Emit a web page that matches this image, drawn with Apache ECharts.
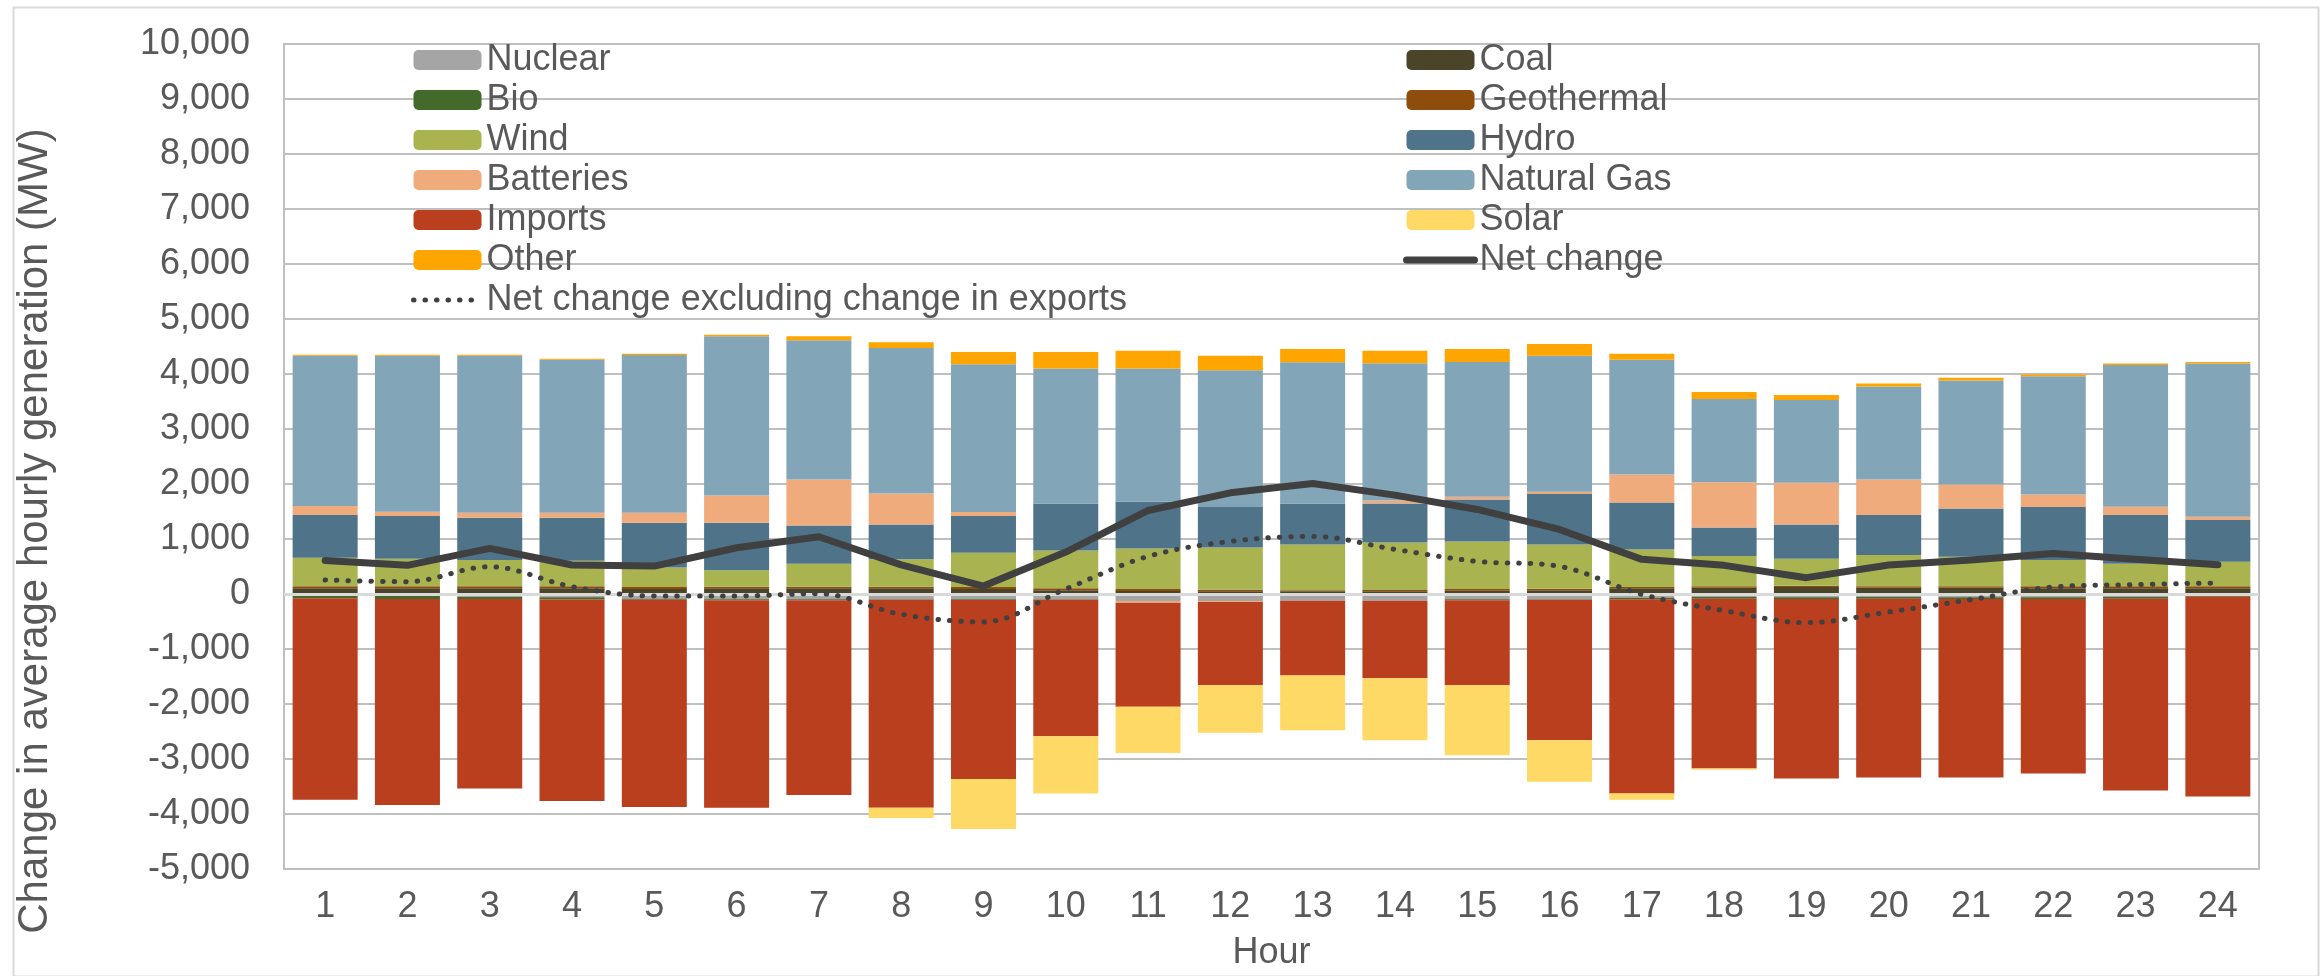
<!DOCTYPE html>
<html>
<head>
<meta charset="utf-8">
<script src="https://cdn.jsdelivr.net/npm/echarts@6/dist/echarts.min.js"></script>
<style>
  html, body { margin: 0; padding: 0; background: #fff; }
  #chart { width: 2321px; height: 976px; }
</style>
</head>
<body>
<div id="chart"></div>
<script>
const hours = ['1','2','3','4','5','6','7','8','9','10','11','12','13','14','15','16','17','18','19','20','21','22','23','24'];
const yTicks = { min: -5000, max: 10000, step: 1000 };

// generation change by source (MW)
const nuclear    = [-36, -30, -55, -60, -85, -97, -97, -97, -97, -97, -127, -127, -121, -121, -97, -97, -67, -55, -61, -55, -61, -61, -55, -24];
const coal       = [103, 103, 103, 103, 91, 103, 103, 103, 91, 67, 54, 48, 48, 48, 60, 67, 103, 115, 127, 115, 115, 103, 103, 103];
const bio        = [-42, -60, -36, -42, -18, -18, -18, -6, -12, -6, 0, 0, 0, 0, -18, -6, -30, -30, -30, -30, -30, -30, -30, -24];
const geothermal = [36, 36, 36, 36, 36, 30, 30, 30, 36, 36, 36, 30, 18, 24, 30, 30, 24, 24, 24, 24, 24, 36, 36, 36];
const wind       = [521, 503, 478, 466, 357, 297, 418, 497, 624, 690, 739, 769, 836, 866, 866, 805, 684, 551, 491, 569, 539, 478, 412, 448];
const hydro      = [775, 774, 769, 781, 811, 865, 696, 635, 665, 853, 848, 733, 744, 708, 763, 914, 854, 521, 623, 727, 878, 963, 884, 757];
const batteries  = [163, 79, 91, 91, 182, 497, 835, 563, 73, 0, -30, -20, 0, 55, 48, 42, 508, 823, 757, 647, 435, 230, 151, 60];
const naturalGas = [2736, 2839, 2857, 2784, 2869, 2893, 2530, 2645, 2688, 2452, 2421, 2488, 2567, 2494, 2452, 2476, 2088, 1513, 1507, 1689, 1889, 2148, 2578, 2785];
const imports    = [-3663, -3748, -3444, -3663, -3771, -3771, -3541, -3783, -3256, -2482, -1895, -1512, -1362, -1410, -1544, -2554, -3529, -3087, -3262, -3250, -3244, -3172, -3486, -3632];
const solar      = [0, 0, 0, 0, 0, 0, 0, -188, -908, -1041, -841, -865, -993, -1126, -1271, -757, -115, -24, 0, 0, 0, 0, 0, 0];
const other      = [18, 18, 18, 18, 24, 30, 73, 103, 223, 302, 327, 266, 242, 230, 236, 212, 109, 127, 91, 55, 54, 31, 25, 30];
const netChange  = [611, 521, 829, 527, 508, 841, 1041, 530, 145, 763, 1519, 1840, 2010, 1798, 1537, 1174, 630, 521, 297, 527, 617, 738, 630, 533];
const netExclExports = [254, 224, 496, 133, -36, -36, 6, -369, -508, 91, 684, 956, 1047, 811, 593, 502, -6, -303, -521, -327, -103, 127, 170, 200];

const FONT = '"Liberation Sans", Arial, sans-serif';
const TXT = '#595959';
// hides the circle ECharts puts in the middle of line legend icons
const noDot = { color: 'rgba(0,0,0,0)', borderWidth: 0, opacity: 0 };
const solidStyle = { color: '#404040', width: 7, cap: 'round', join: 'round' };
const dotStyle = { color: '#404040', width: 5, type: [0.5, 11], cap: 'round' };

function bar(name, data, color) {
  return {
    name: name, type: 'bar', stack: 'total', data: data,
    barCategoryGap: '21%',
    itemStyle: { color: color }
  };
}

const chart = echarts.init(document.getElementById('chart'));
chart.setOption({
  animation: false,
  backgroundColor: '#fff',
  textStyle: { fontFamily: FONT },
  graphic: [
    {
      type: 'rect', left: 11, top: 5, silent: true,
      shape: { width: 2305, height: 969 },
      style: { fill: 'none', stroke: '#D9D9D9', lineWidth: 2 }
    },
    {
      type: 'text', x: 35, y: 531, rotation: Math.PI / 2, silent: true,
      style: {
        text: 'Change in average hourly generation (MW)',
        fill: TXT, font: '42px ' + FONT,
        align: 'center', verticalAlign: 'middle'
      }
    }
  ],
  legend: [
    {
      orient: 'vertical', left: 411, top: 40, padding: 0, itemGap: 0,
      itemWidth: 68, itemHeight: 20,
      textStyle: { fontSize: 36, lineHeight: 40, color: TXT, fontFamily: FONT },
      data: ['Nuclear', 'Bio', 'Wind', 'Batteries', 'Imports', 'Other',
        { name: 'Net change excluding change in exports', itemStyle: noDot, lineStyle: dotStyle }]
    },
    {
      orient: 'vertical', left: 1403, top: 40, padding: 0, itemGap: 0,
      itemWidth: 68, itemHeight: 20,
      textStyle: { fontSize: 36, lineHeight: 40, color: TXT, fontFamily: FONT },
      data: ['Coal', 'Geothermal', 'Hydro', 'Natural Gas', 'Solar',
        { name: 'Net change', itemStyle: noDot, lineStyle: solidStyle }]
    }
  ],
  grid: {
    left: 284, right: 62, top: 44, bottom: 106,
    show: true, borderColor: '#BFBFBF', borderWidth: 2
  },
  xAxis: {
    type: 'category', data: hours,
    axisLine: { onZero: false, show: false },
    axisTick: { show: false },
    axisLabel: { fontSize: 36, color: TXT, margin: 20, fontFamily: FONT },
    name: 'Hour', nameLocation: 'middle', nameGap: 66,
    nameTextStyle: { fontSize: 36, color: TXT, fontFamily: FONT, verticalAlign: 'top' }
  },
  yAxis: {
    type: 'value', min: yTicks.min, max: yTicks.max, interval: yTicks.step,
    axisLine: { show: false },
    axisTick: { show: false },
    axisLabel: {
      fontSize: 36, color: TXT, margin: 34, fontFamily: FONT,
      formatter: function (v) { return v.toLocaleString('en-US'); }
    },
    splitLine: { lineStyle: { color: '#BFBFBF', width: 2 } }
  },
  series: [
    bar('Nuclear', nuclear, '#A5A5A5'),
    bar('Coal', coal, '#4A4429'),
    bar('Bio', bio, '#43692B'),
    bar('Geothermal', geothermal, '#8E4D0C'),
    bar('Wind', wind, '#A9B450'),
    bar('Hydro', hydro, '#4F7489'),
    bar('Batteries', batteries, '#F0AB7C'),
    bar('Natural Gas', naturalGas, '#83A5B8'),
    bar('Imports', imports, '#B93F1F'),
    bar('Solar', solar, '#FFD966'),
    Object.assign(bar('Other', other, '#FFA500'), {
      markLine: {
        silent: true, symbol: 'none', label: { show: false },
        lineStyle: { color: '#D9D9D9', width: 3, type: 'solid' },
        data: [{ yAxis: 0 }]
      }
    }),
    {
      name: 'Net change', type: 'line', data: netChange,
      symbol: 'none', z: 5,
      lineStyle: solidStyle,
      itemStyle: { color: '#404040' }
    },
    {
      name: 'Net change excluding change in exports', type: 'line', data: netExclExports,
      symbol: 'none', smooth: 0.35, z: 5,
      lineStyle: dotStyle,
      itemStyle: { color: '#404040' }
    }
  ]
});
</script>
</body>
</html>
